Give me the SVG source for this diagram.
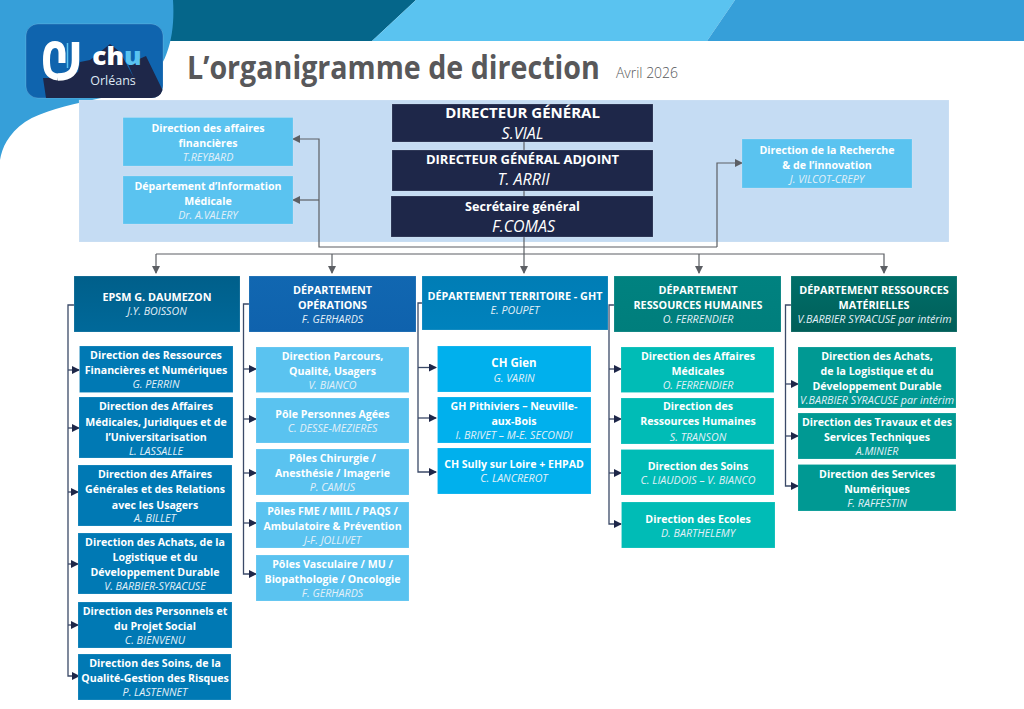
<svg xmlns="http://www.w3.org/2000/svg" width="1024" height="709" viewBox="0 0 1024 709">
<style>
text{font-family:"Open Sans","Noto Sans","Liberation Sans",sans-serif;text-anchor:middle;fill:#fff}
.h{font-size:10.6px;font-weight:700}
.n{font-size:10.7px;font-style:italic;fill:#e3f0f8}
.d{font-size:10.8px;font-weight:700}
.t{font-size:15px;font-weight:700}
.t2{font-size:13px;font-weight:700}
.t3{font-size:12.6px;font-weight:700}
.tn{font-size:16px;font-style:italic}
.c{fill:none;stroke:#3b4a68;stroke-width:1.3}
.g{fill:none;stroke:#5c5f64;stroke-width:1.2}
.a{fill:#5ac3f0}.e{fill:#0079b4}.o{fill:#5ac3f0}.r{fill:#00b0ed}.m{fill:#00bcb6}.v{fill:#009993}.k{fill:#1e2749}
rect{stroke:#fff;stroke-opacity:.25;stroke-width:.6}
</style>
<defs>
<marker id="ag" markerWidth="8" markerHeight="8" refX="7" refY="4" orient="auto" markerUnits="userSpaceOnUse"><path d="M0 0L8 4L0 8z" fill="#5c5f64"/></marker>
<marker id="ad" markerWidth="8" markerHeight="8" refX="7" refY="4" orient="auto" markerUnits="userSpaceOnUse"><path d="M0 0L8 4L0 8z" fill="#1e2749"/></marker>
<linearGradient id="g1" x1="0" y1="0" x2="0" y2="1"><stop offset="0" stop-color="#005f8a"/><stop offset="1" stop-color="#00699a"/></linearGradient>
<linearGradient id="g2" x1="0" y1="0" x2="0" y2="1"><stop offset="0" stop-color="#1167b1"/><stop offset="1" stop-color="#0f62ad"/></linearGradient>
<linearGradient id="g3" x1="0" y1="0" x2="0" y2="1"><stop offset="0" stop-color="#007db5"/><stop offset="1" stop-color="#0082bd"/></linearGradient>
<linearGradient id="g4" x1="0" y1="0" x2="0" y2="1"><stop offset="0" stop-color="#008280"/><stop offset="1" stop-color="#007e7c"/></linearGradient>
<linearGradient id="g5" x1="0" y1="0" x2="0" y2="1"><stop offset="0" stop-color="#006f69"/><stop offset="1" stop-color="#005e59"/></linearGradient>
</defs>
<rect width="1024" height="709" fill="#fff" stroke="none"/>
<g id="header">
<path d="M160 0H416L372 41H160z" fill="#05668a"/>
<path d="M416 0H735L707 41H372z" fill="#5ac3f0"/>
<path d="M735 0H1024V41H707z" fill="#369fd9"/>
<path d="M0 0H173C175 30 170 60 150 80C125 100 60 100 25 122C8 134 2 148 0 160z" fill="#369fd9"/>
</g>
<rect x="79" y="100" width="870" height="142" fill="#c5dcf3"/>
<g id="logo">
<rect x="26" y="24" width="137" height="74" rx="12" fill="#0f64ae" stroke="none"/>
<path d="M43 78L46 98H151Q160 98 162.500 90L146 56L128 64L134 78L120 52L110 44L90 60L80 62L78 72L60 78z" fill="#1e2749"/>
<path d="M58 77C48 76 46.500 70 46.500 60C46.500 48 50 44.500 55 44.500C60 44.500 62 48 62 53V63" fill="none" stroke="#fff" stroke-width="7"/>
<path d="M75.500 42V60C75.500 72 70 77 58 77" fill="none" stroke="#fff" stroke-width="7.500"/>
<path d="M67.500 43V68" fill="none" stroke="#5ac3f0" stroke-width="1.500"/>
<text transform="translate(117 65) scale(1.05 1)" style="font-size:25px;font-weight:800">ch<tspan fill="#5ac3f0">u</tspan></text>
<text x="113" y="84.500" style="font-size:12.500px;fill:#dfe9f4">Orléans</text>
</g>
<text transform="translate(187 79) scale(.895 1)" style="font-size:32px;font-weight:700;fill:#58585a;text-anchor:start">L’organigramme de direction</text>
<text x="647" y="78" style="font-size:14px;fill:#58585a;font-weight:300">Avril 2026</text>
<g id="connectors">
<path class="g" d="M524 142V273" marker-end="url(#ag)"/>
<path class="g" d="M156 254H884V273" marker-end="url(#ag)"/>
<path class="g" d="M156 254V273" marker-end="url(#ag)"/>
<path class="g" d="M332 254V273" marker-end="url(#ag)"/>
<path class="g" d="M699 254V273" marker-end="url(#ag)"/>
<path class="g" d="M717 247H319V139H293" marker-end="url(#ag)"/>
<path class="g" d="M319 200H293" marker-end="url(#ag)"/>
<path class="g" d="M717 247V163H742" marker-end="url(#ag)"/>
<path class="c" d="M74 305H68V676H79" marker-end="url(#ad)"/>
<path class="c" d="M68 370H79" marker-end="url(#ad)"/><path class="c" d="M68 428H79" marker-end="url(#ad)"/><path class="c" d="M68 492H78" marker-end="url(#ad)"/><path class="c" d="M68 564H78" marker-end="url(#ad)"/><path class="c" d="M68 625H78" marker-end="url(#ad)"/>
<path class="c" d="M249 304H243.500V574H256" marker-end="url(#ad)"/>
<path class="c" d="M243.500 369H256" marker-end="url(#ad)"/><path class="c" d="M243.500 419H256" marker-end="url(#ad)"/><path class="c" d="M243.500 473H256" marker-end="url(#ad)"/><path class="c" d="M243.500 523H256" marker-end="url(#ad)"/>
<path class="c" d="M422 303H418V472H436" marker-end="url(#ad)"/>
<path class="c" d="M418 367.500H436" marker-end="url(#ad)"/><path class="c" d="M418 418H436" marker-end="url(#ad)"/>
<path class="c" d="M614 305H609V524H621" marker-end="url(#ad)"/>
<path class="c" d="M609 369H621" marker-end="url(#ad)"/><path class="c" d="M609 419H621" marker-end="url(#ad)"/><path class="c" d="M609 473H621" marker-end="url(#ad)"/>
<path class="c" d="M791 305H785.500V486H798" marker-end="url(#ad)"/>
<path class="c" d="M785.500 384H798" marker-end="url(#ad)"/><path class="c" d="M785.500 436H798" marker-end="url(#ad)"/>
</g>
<g id="n-dg"><rect class="k" x="392" y="104" width="261" height="38"/><text class="t" x="522.500" y="118">DIRECTEUR GÉNÉRAL</text><text class="tn" x="522.500" y="139">S.VIAL</text></g>
<g id="n-dga"><rect class="k" x="392" y="150" width="261" height="41"/><text class="t2" x="522.500" y="164">DIRECTEUR GÉNÉRAL ADJOINT</text><text class="tn" x="523.500" y="185">T. ARRII</text></g>
<g id="n-sg"><rect class="k" x="391" y="196" width="262" height="41"/><text class="t3" x="522.500" y="211">Secrétaire général</text><text class="tn" x="523.500" y="232">F.COMAS</text></g>
<g id="n-fin"><rect class="a" x="123" y="117.500" width="170" height="48.500"/><text class="h" x="208" y="131.500">Direction des affaires</text><text class="h" x="208" y="147">financières</text><text class="n" x="208" y="161">T.REYBARD</text></g>
<g id="n-dim"><rect class="a" x="123" y="176" width="170" height="48"/><text class="h" x="208" y="190">Département d’Information</text><text class="h" x="208" y="205">Médicale</text><text class="n" x="208" y="219">Dr. A.VALERY</text></g>
<g id="n-rech"><rect class="a" x="742" y="139" width="170" height="49"/><text class="h" x="827" y="153.500">Direction de la Recherche</text><text class="h" x="827" y="168.500">&amp; de l’innovation</text><text class="n" x="827" y="183">J. VILCOT-CREPY</text></g>

<g id="d-epsm"><rect fill="url(#g1)" x="74" y="276" width="166" height="56"/><text class="d" x="157" y="301">EPSM G. DAUMEZON</text><text class="n" x="157" y="315">J.Y. BOISSON</text></g>
<g id="d-ops"><rect fill="url(#g2)" x="249" y="276" width="167" height="56"/><text class="d" x="332.500" y="293.500">DÉPARTEMENT</text><text class="d" x="332.500" y="308.500">OPÉRATIONS</text><text class="n" x="332.500" y="323">F. GERHARDS</text></g>
<g id="d-ter"><rect fill="url(#g3)" x="422" y="276" width="186" height="54"/><text class="d" x="515" y="300">DÉPARTEMENT TERRITOIRE - GHT</text><text class="n" x="515" y="314">E. POUPET</text></g>
<g id="d-rh"><rect fill="url(#g4)" x="614" y="276" width="167" height="56"/><text class="d" x="698" y="293.500">DÉPARTEMENT</text><text class="d" x="698" y="308.500">RESSOURCES HUMAINES</text><text class="n" x="698" y="323">O. FERRENDIER</text></g>
<g id="d-rm"><rect fill="url(#g5)" x="791" y="276" width="166" height="56"/><text class="d" x="874" y="293.500">DÉPARTEMENT RESSOURCES</text><text class="d" x="874" y="308.500">MATÉRIELLES</text><text class="n" x="874.500" y="323">V.BARBIER SYRACUSE par intérim</text></g>

<g id="e1"><rect class="e" x="79.500" y="346" width="153.500" height="46.500"/><text class="h" x="156" y="359">Direction des Ressources</text><text class="h" x="156" y="374">Financières et Numériques</text><text class="n" x="156" y="388">G. PERRIN</text></g>
<g id="e2"><rect class="e" x="79" y="397" width="154" height="61"/><text class="h" x="156" y="410">Direction des Affaires</text><text class="h" x="156" y="425.500">Médicales, Juridiques et de</text><text class="h" x="156" y="440.500">l’Universitarisation</text><text class="n" x="156" y="455">L. LASSALLE</text></g>
<g id="e3"><rect class="e" x="78" y="465" width="154" height="61"/><text class="h" x="155" y="478">Direction des Affaires</text><text class="h" x="155" y="493">Générales et des Relations</text><text class="h" x="155" y="508.500">avec les Usagers</text><text class="n" x="155" y="522">A. BILLET</text></g>
<g id="e4"><rect class="e" x="78" y="533" width="154" height="61"/><text class="h" x="155" y="546">Direction des Achats, de la</text><text class="h" x="155" y="561">Logistique et du</text><text class="h" x="155" y="576">Développement Durable</text><text class="n" x="155" y="590">V. BARBIER-SYRACUSE</text></g>
<g id="e5"><rect class="e" x="78" y="602" width="154" height="46"/><text class="h" x="155" y="615">Direction des Personnels et</text><text class="h" x="155" y="630">du Projet Social</text><text class="n" x="155" y="644">C. BIENVENU</text></g>
<g id="e6"><rect class="e" x="78" y="654" width="153" height="46"/><text class="h" x="155" y="667">Direction des Soins, de la</text><text class="h" x="155" y="682">Qualité-Gestion des Risques</text><text class="n" x="155" y="696">P. LASTENNET</text></g>

<g id="o1"><rect class="o" x="256" y="347" width="153" height="45.500"/><text class="h" x="332.500" y="360">Direction Parcours,</text><text class="h" x="332.500" y="375">Qualité, Usagers</text><text class="n" x="332.500" y="389">V. BIANCO</text></g>
<g id="o2"><rect class="o" x="256" y="398" width="153" height="45"/><text class="h" x="332.500" y="418">Pôle Personnes Agées</text><text class="n" x="332.500" y="432">C. DESSE-MEZIERES</text></g>
<g id="o3"><rect class="o" x="256" y="449" width="153" height="46"/><text class="h" x="332.500" y="462">Pôles Chirurgie /</text><text class="h" x="332.500" y="477">Anesthésie / Imagerie</text><text class="n" x="332.500" y="491">P. CAMUS</text></g>
<g id="o4"><rect class="o" x="256" y="502" width="153" height="46"/><text class="h" x="332.500" y="515">Pôles FME / MIIL / PAQS /</text><text class="h" x="332.500" y="530">Ambulatoire &amp; Prévention</text><text class="n" x="332.500" y="544">J-F. JOLLIVET</text></g>
<g id="o5"><rect class="o" x="256" y="555" width="153" height="46"/><text class="h" x="332.500" y="568">Pôles Vasculaire / MU /</text><text class="h" x="332.500" y="583">Biopathologie / Oncologie</text><text class="n" x="332.500" y="597">F. GERHARDS</text></g>

<g id="r1"><rect class="r" x="437.500" y="346" width="153.500" height="46"/><text class="h" x="514" y="367" style="font-size:11.500px">CH Gien</text><text class="n" x="514" y="382">G. VARIN</text></g>
<g id="r2"><rect class="r" x="437.500" y="397" width="153.500" height="46"/><text class="h" x="514" y="410">GH Pithiviers – Neuville-</text><text class="h" x="514" y="425">aux-Bois</text><text class="n" x="514" y="439">I. BRIVET – M-E. SECONDI</text></g>
<g id="r3"><rect class="r" x="437.500" y="448" width="153.500" height="46"/><text class="h" x="514" y="468">CH Sully sur Loire + EHPAD</text><text class="n" x="514" y="482">C. LANCREROT</text></g>

<g id="m1"><rect class="m" x="621" y="347" width="153" height="45.500"/><text class="h" x="698" y="360">Direction des Affaires</text><text class="h" x="698" y="375">Médicales</text><text class="n" x="698" y="389">O. FERRENDIER</text></g>
<g id="m2"><rect class="m" x="621" y="398" width="153" height="46"/><text class="h" x="698" y="410">Direction des</text><text class="h" x="698" y="425">Ressources Humaines</text><text class="n" x="698" y="441">S. TRANSON</text></g>
<g id="m3"><rect class="m" x="621" y="449.500" width="153" height="45.500"/><text class="h" x="698" y="470">Direction des Soins</text><text class="n" x="698" y="484">C. LIAUDOIS – V. BIANCO</text></g>
<g id="m4"><rect class="m" x="621.500" y="502" width="153.500" height="46"/><text class="h" x="698" y="523">Direction des Ecoles</text><text class="n" x="698" y="537">D. BARTHELEMY</text></g>

<g id="v1"><rect class="v" x="798" y="347" width="158" height="61"/><text class="h" x="877" y="360">Direction des Achats,</text><text class="h" x="877" y="375">de la Logistique et du</text><text class="h" x="877" y="390">Développement Durable</text><text class="n" x="877" y="404">V.BARBIER SYRACUSE par intérim</text></g>
<g id="v2"><rect class="v" x="798" y="413" width="158" height="46"/><text class="h" x="877" y="426">Direction des Travaux et des</text><text class="h" x="877" y="441">Services Techniques</text><text class="n" x="877" y="455">A.MINIER</text></g>
<g id="v3"><rect class="v" x="798" y="464.500" width="158" height="46.500"/><text class="h" x="877" y="478">Direction des Services</text><text class="h" x="877" y="493">Numériques</text><text class="n" x="877" y="507">F. RAFFESTIN</text></g>
</svg>
